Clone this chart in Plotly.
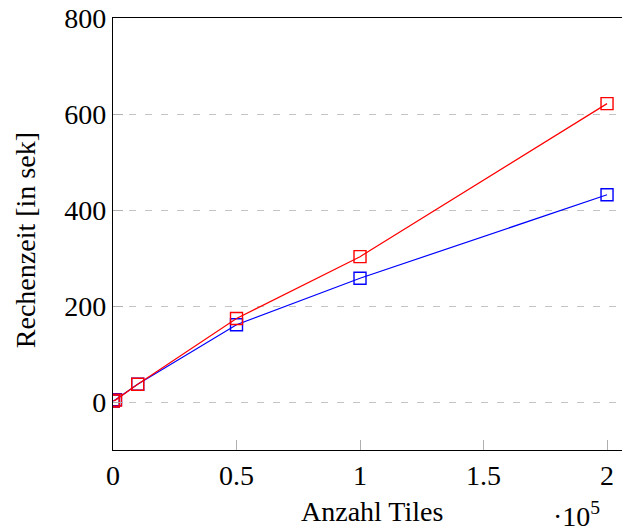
import plotly.graph_objects as go

tiles = [100, 1000, 10000, 50000, 100000, 200000]
zeit_rot = [2, 4, 37, 174, 303, 622]
zeit_blau = [2, 5, 37, 161, 258, 432]

x_tickvals = [0, 50000, 100000, 150000, 200000]
x_ticktext = ["0", "0.5", "1", "1.5", "2"]
y_tickvals = [0, 200, 400, 600, 800]

font = "Liberation Serif, Times New Roman, serif"

fig = go.Figure()
fig.add_trace(go.Scatter(x=tiles, y=zeit_blau, mode="lines+markers",
                         line=dict(color="#0000ff", width=1.2),
                         marker=dict(symbol="square-open", size=12, color="#0000ff", line=dict(width=1.4))))
fig.add_trace(go.Scatter(x=tiles, y=zeit_rot, mode="lines+markers",
                         line=dict(color="#ff0000", width=1.2),
                         marker=dict(symbol="square-open", size=12, color="#ff0000", line=dict(width=1.4))))

fig.update_layout(
    template="none",
    width=630, height=531,
    margin=dict(l=113, r=0, t=18, b=81, autoexpand=False),
    plot_bgcolor="white", paper_bgcolor="white",
    showlegend=False,
    font=dict(family=font, size=28, color="black"),
    xaxis=dict(range=[0, 209300], tickvals=x_tickvals, ticktext=x_ticktext,
               showgrid=False, zeroline=False, showline=True, linecolor="black", linewidth=1.3,
               mirror=True, ticks="inside", ticklen=10, tickcolor="#b0b0b0", tickwidth=1,
               automargin=False),
    yaxis=dict(range=[-100, 800.5], tickvals=y_tickvals,
               showgrid=True, gridcolor="#c4c4c4", griddash="7px,9px", gridwidth=1.2,
               zeroline=False, showline=True, linecolor="black", linewidth=1.3,
               ticks="inside", ticklen=10, tickcolor="#b0b0b0", tickwidth=1,
               automargin=False),
)
fig.add_annotation(text="Anzahl Tiles", xref="paper", yref="paper", x=0.501, y=-0.1435,
                   showarrow=False, xanchor="center", yanchor="middle", font=dict(size=28))
fig.add_annotation(text="Rechenzeit [in sek]", xref="paper", yref="paper", x=-0.170, y=0.486,
                   textangle=-90, showarrow=False, xanchor="center", yanchor="middle", font=dict(size=28))
fig.add_annotation(text="·10<sup>5</sup>", xref="paper", yref="paper", x=0.8956, y=-0.150,
                   showarrow=False, xanchor="center", yanchor="middle", font=dict(size=28))
fig.write_html("out.html", config={"displayModeBar": False},
               post_script="document.body.style.margin='0';document.body.style.overflow='hidden';")
